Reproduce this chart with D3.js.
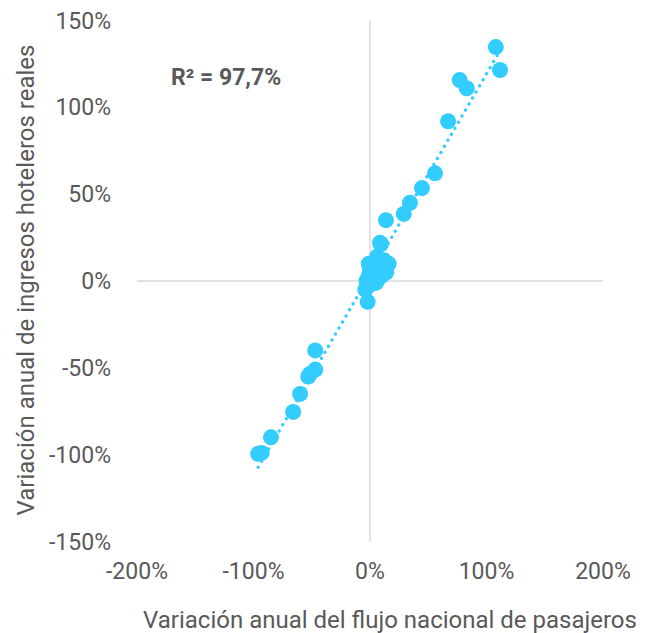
<!DOCTYPE html>
<html lang="es">
<head>
    <meta charset="UTF-8">
    <title>Pasajeros vs ingresos hoteleros</title>
    <script src="https://cdn.jsdelivr.net/npm/d3@7/dist/d3.min.js"></script>
    <style>
        html, body { margin: 0; padding: 0; background: #fff; }
        #chart { width: 655px; height: 633px; }
        text { font-family: Roboto, "Noto Sans", sans-serif; }
    </style>
</head>
<body>
<div id="chart"></div>
<script>
    // variación anual del flujo nacional de pasajeros (%)
    var pasajeros = [108, 111.6, 77, 83, 67, 55.8, 44.6, 34.3, 29, 13.7, 9.4,
        8.6, 6, 12, 16, 14, 10, 3, 0, -1, -3, 2, 6, -2, -4, 0, 5, -2, 10, -1, 4,
        -47, -47, -51.5, -53, -60, -66, -85, -93, -96];
    // variación anual de ingresos hoteleros reales (%)
    var ingresos = [134.7, 121.5, 115.7, 111, 92, 62, 53.5, 45, 38.6, 35, 21.3,
        22, 14, 12, 10, 5, 3, 8, 6, 3, 0, 1, 0, -3, -5, -2, -1, -12, 8, 10, 4,
        -40, -51, -53.5, -55, -65, -75.4, -90, -99, -99.5];
    var xTicks = [-200, -100, 0, 100, 200];
    var yTicks = [-150, -100, -50, 0, 50, 100, 150];
    var r2Label = "R² = 97,7%";
    var xTitle = "Variación anual del flujo nacional de pasajeros";
    var yTitle = "Variación anual de ingresos hoteleros reales";

    var width = 655, height = 633;
    var gris = "#595959";

    var x = d3.scaleLinear().domain([-200, 200]).range([137, 603]);
    var y = d3.scaleLinear().domain([-150, 150]).range([541.5, 20.5]);

    var svg = d3.select("#chart").append("svg")
        .attr("width", width)
        .attr("height", height);

    // ejes que cruzan en cero
    svg.append("line")
        .attr("x1", x(-200)).attr("x2", x(200))
        .attr("y1", y(0)).attr("y2", y(0))
        .attr("stroke", "#d9d9d9").attr("stroke-width", 1.5);
    svg.append("line")
        .attr("x1", x(0)).attr("x2", x(0))
        .attr("y1", y(150)).attr("y2", y(-150))
        .attr("stroke", "#d9d9d9").attr("stroke-width", 1.5);

    // etiquetas
    svg.append("g").selectAll("text")
        .data(yTicks)
        .enter()
        .append("text")
        .attr("x", 111)
        .attr("y", function (d) { return y(d); })
        .attr("dy", "0.35em")
        .attr("text-anchor", "end")
        .attr("font-size", 23)
        .attr("fill", gris)
        .text(function (d) { return d + "%"; });

    svg.append("g").selectAll("text")
        .data(xTicks)
        .enter()
        .append("text")
        .attr("x", function (d) { return x(d); })
        .attr("y", 578.5)
        .attr("text-anchor", "middle")
        .attr("font-size", 23)
        .attr("fill", gris)
        .text(function (d) { return d + "%"; });

    svg.append("text")
        .attr("x", 390)
        .attr("y", 628)
        .attr("text-anchor", "middle")
        .attr("font-size", 24)
        .attr("fill", gris)
        .text(xTitle);

    svg.append("text")
        .attr("transform", "translate(33.5,280) rotate(-90)")
        .attr("text-anchor", "middle")
        .attr("font-size", 24)
        .attr("fill", gris)
        .text(yTitle);

    // puntos
    var datos = pasajeros.map(function (d, i) { return {x: d, y: ingresos[i]}; });
    svg.append("g").selectAll("circle")
        .data(datos)
        .enter()
        .append("circle")
        .attr("cx", function (d) { return x(d.x); })
        .attr("cy", function (d) { return y(d.y); })
        .attr("r", 8)
        .attr("fill", "#33ccff");

    // línea de tendencia (mínimos cuadrados)
    var mx = d3.mean(pasajeros), my = d3.mean(ingresos);
    var sxy = d3.sum(datos, function (d) { return (d.x - mx) * (d.y - my); });
    var sxx = d3.sum(datos, function (d) { return (d.x - mx) * (d.x - mx); });
    var pend = sxy / sxx, corte = my - pend * mx;
    var ext = d3.extent(pasajeros);
    svg.append("line")
        .attr("x1", x(ext[0])).attr("y1", y(corte + pend * ext[0]))
        .attr("x2", x(ext[1])).attr("y2", y(corte + pend * ext[1]))
        .attr("stroke", "#33ccff")
        .attr("stroke-width", 3.5)
        .attr("stroke-linecap", "round")
        .attr("stroke-dasharray", "0 7");

    svg.append("text")
        .attr("x", 171)
        .attr("y", 85)
        .attr("font-size", 23)
        .attr("font-weight", "bold")
        .attr("fill", gris)
        .text(r2Label);
</script>
</body>
</html>
